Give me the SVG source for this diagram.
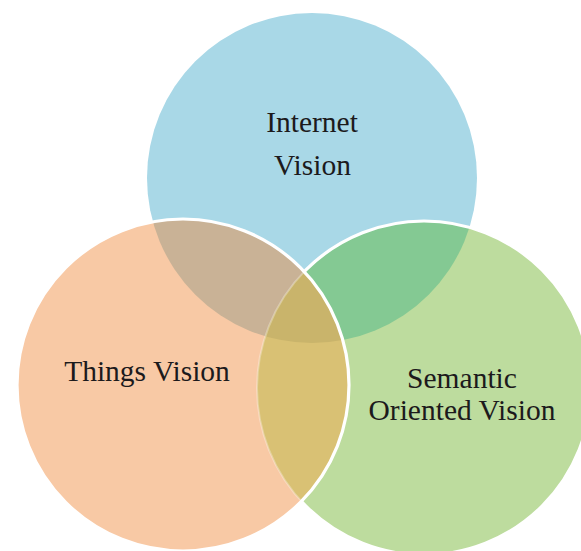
<svg xmlns="http://www.w3.org/2000/svg" width="581" height="551" viewBox="0 0 581 551">
  <style>
    .lbl { font-family: "Liberation Serif", "Times New Roman", serif; font-size: 29.5px; fill: #1c1a1c; text-anchor: middle; }
    .edge { fill: none; stroke: #ffffff; stroke-width: 3.2; }
  </style>
  <defs>
    <clipPath id="cBlue"><circle cx="312" cy="178" r="165"/></clipPath>
    <clipPath id="cOrange"><circle cx="183" cy="385" r="166"/></clipPath>
    <clipPath id="cGreen"><circle cx="424" cy="388" r="167"/></clipPath>
    <clipPath id="cNotOrange"><path clip-rule="evenodd" d="M-10,-10 H600 V600 H-10 Z M17,385 a166,166 0 1,0 332,0 a166,166 0 1,0 -332,0 Z"/></clipPath>
  </defs>
  <rect width="581" height="551" fill="#ffffff"/>

  <g id="internet-vision">
    <circle cx="312" cy="178" r="165" fill="#a9d8e7"/>
  </g>
  <g id="semantic-oriented-vision">
    <circle cx="424" cy="388" r="167" fill="#bddc9e"/>
  </g>
  <g id="things-vision">
    <circle cx="183" cy="385" r="166" fill="#f8c9a5"/>
  </g>

  <g id="overlaps">
    <circle cx="424" cy="388" r="167" fill="#84c993" clip-path="url(#cBlue)"/>
    <circle cx="183" cy="385" r="166" fill="#c9b296" clip-path="url(#cBlue)"/>
    <circle cx="183" cy="385" r="166" fill="#d9c174" clip-path="url(#cGreen)"/>
    <g clip-path="url(#cBlue)">
      <circle cx="183" cy="385" r="166" fill="#c9b46b" clip-path="url(#cGreen)"/>
    </g>
  </g>

  <g id="outlines">
    <circle class="edge" cx="424" cy="388" r="167" clip-path="url(#cNotOrange)"/>
    <circle cx="424" cy="388" r="167" fill="none" stroke="#ffffff" stroke-opacity="0.3" stroke-width="2" clip-path="url(#cOrange)"/>
    <circle class="edge" cx="183" cy="385" r="166"/>
  </g>

  <g id="labels">
    <text class="lbl" x="312" y="132">Internet</text>
    <text class="lbl" x="312.5" y="175">Vision</text>
    <text class="lbl" x="147" y="381">Things Vision</text>
    <text class="lbl" x="462" y="388">Semantic</text>
    <text class="lbl" x="462" y="420">Oriented Vision</text>
  </g>
</svg>
